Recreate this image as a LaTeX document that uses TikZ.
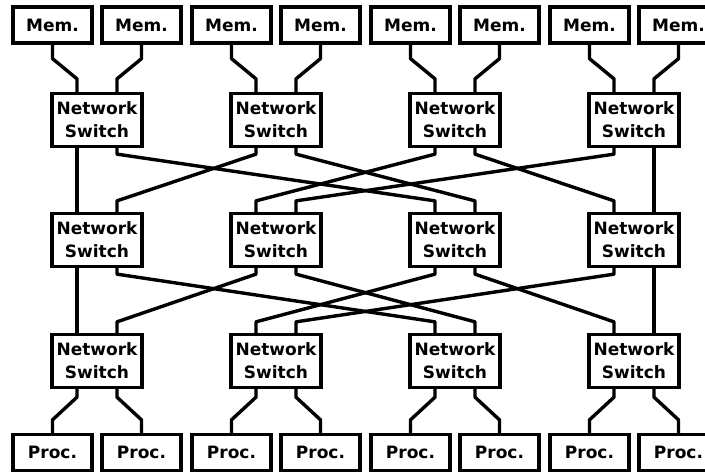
\documentclass[tikz,border=0pt]{standalone}
\usepackage{fontspec}
\setmainfont{DejaVu Sans}
\usetikzlibrary{calc}

\tikzset{
  unitbox/.style={draw, fill=white, line width=3.3pt, inner sep=0pt,
    minimum width=79pt, minimum height=36pt,
    font=\fontsize{17}{20}\selectfont\bfseries},
  switchbox/.style={draw, fill=white, line width=3.3pt, inner sep=0pt,
    minimum width=90pt, minimum height=53pt, align=center,
    font=\fontsize{17}{23}\selectfont\bfseries},
  wire/.style={line width=3.4pt, line join=round, line cap=round}
}

% link from a port on the lower side of one switch to a port on the upper side of the next stage
\newcommand\stagelink[4]{%
  \draw[wire] ($(#1.south)+(#2,0)$) -- ++(0,6) -- ($(#3.north)+(#4,-11)$) -- ($(#3.north)+(#4,0)$);}
% memory module down to a switch port
\newcommand\memlink[3]{%
  \draw[wire] (#1.south) -- ++(0,14) -- ($(#2.north)+(#3,-13)$) -- ($(#2.north)+(#3,0)$);}
% switch port down to a processor
\newcommand\proclink[3]{%
  \draw[wire] ($(#1.south)+(#2,0)$) -- ++(0,8) -- ($(#3.north)+(0,-13)$) -- (#3.north);}

\begin{document}
\begin{tikzpicture}[x=1pt,y=-1pt]
\useasboundingbox (0,0) rectangle (705,472);
\clip (0,0) rectangle (705,472);

% switches: three stages of four
\foreach \i/\c in {1/97,2/276,3/455,4/634} {
  \node[switchbox] (t\i) at (\c,120) {Network\\Switch};
  \node[switchbox] (m\i) at (\c,240) {Network\\Switch};
  \node[switchbox] (b\i) at (\c,361) {Network\\Switch};
}

% memories
\node[unitbox] (mem1) at (52.5,25) {Mem.};
\node[unitbox] (mem2) at (141.5,25) {Mem.};
\node[unitbox] (mem3) at (231.5,25) {Mem.};
\node[unitbox] (mem4) at (320.5,25) {Mem.};
\node[unitbox] (mem5) at (410.5,25) {Mem.};
\node[unitbox] (mem6) at (499.5,25) {Mem.};
\node[unitbox] (mem7) at (589.5,25) {Mem.};
\node[unitbox] (mem8) at (678.5,25) {Mem.};

% processors
\node[unitbox] (p1) at (52.5,452.5) {Proc.};
\node[unitbox] (p2) at (141.5,452.5) {Proc.};
\node[unitbox] (p3) at (231.5,452.5) {Proc.};
\node[unitbox] (p4) at (320.5,452.5) {Proc.};
\node[unitbox] (p5) at (410.5,452.5) {Proc.};
\node[unitbox] (p6) at (499.5,452.5) {Proc.};
\node[unitbox] (p7) at (589.5,452.5) {Proc.};
\node[unitbox] (p8) at (678.5,452.5) {Proc.};

% memory connections
\memlink{mem1}{t1}{-20}
\memlink{mem2}{t1}{20}
\memlink{mem3}{t2}{-20}
\memlink{mem4}{t2}{20}
\memlink{mem5}{t3}{-20}
\memlink{mem6}{t3}{20}
\memlink{mem7}{t4}{-20}
\memlink{mem8}{t4}{20}

% shuffle between first and second stage
\stagelink{t1}{-20}{m1}{-20}
\stagelink{t1}{20}{m3}{-20}
\stagelink{t2}{-20}{m1}{20}
\stagelink{t2}{20}{m3}{20}
\stagelink{t3}{-20}{m2}{-20}
\stagelink{t3}{20}{m4}{-20}
\stagelink{t4}{-20}{m2}{20}
\stagelink{t4}{20}{m4}{20}

% shuffle between second and third stage
\stagelink{m1}{-20}{b1}{-20}
\stagelink{m1}{20}{b3}{-20}
\stagelink{m2}{-20}{b1}{20}
\stagelink{m2}{20}{b3}{20}
\stagelink{m3}{-20}{b2}{-20}
\stagelink{m3}{20}{b4}{-20}
\stagelink{m4}{-20}{b2}{20}
\stagelink{m4}{20}{b4}{20}

% processor connections
\proclink{b1}{-20}{p1}
\proclink{b1}{20}{p2}
\proclink{b2}{-20}{p3}
\proclink{b2}{20}{p4}
\proclink{b3}{-20}{p5}
\proclink{b3}{20}{p6}
\proclink{b4}{-20}{p7}
\proclink{b4}{20}{p8}
\end{tikzpicture}
\end{document}
